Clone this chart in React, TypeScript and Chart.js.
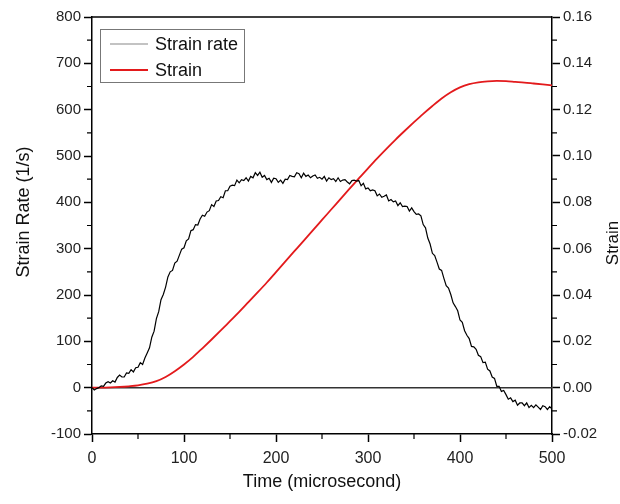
import React, { useEffect, useRef } from 'react';
import { Chart, registerables } from 'chart.js';

Chart.register(...registerables);

// Time step (microsecond) of the strain-rate record
const RATE_STEP = 2.5;
// Strain rate (1/s), sampled every 2.5 microseconds from 0 to 500
const STRAIN_RATE = [
  0, -5, -2, 0, 4, 3, 10, 13, 10, 15,
  12, 22, 27, 23, 23, 32, 31, 39, 34, 43,
  44, 54, 50, 64, 75, 86, 109, 122, 149, 164,
  190, 201, 217, 239, 250, 253, 269, 273, 286, 299,
  302, 317, 321, 339, 341, 352, 351, 364, 372, 370,
  379, 382, 395, 391, 403, 404, 412, 410, 425, 425,
  435, 437, 436, 448, 442, 449, 447, 453, 446, 456,
  453, 464, 458, 465, 454, 458, 449, 452, 443, 452,
  451, 443, 448, 441, 450, 449, 458, 456, 455, 464,
  462, 453, 463, 456, 459, 453, 457, 459, 452, 454,
  450, 456, 446, 453, 449, 451, 445, 453, 445, 448,
  449, 444, 440, 447, 448, 446, 447, 436, 441, 429,
  431, 425, 427, 425, 414, 418, 411, 413, 416, 403,
  406, 401, 403, 393, 399, 391, 392, 391, 381, 388,
  380, 374, 375, 371, 352, 345, 323, 310, 290, 285,
  271, 256, 253, 236, 220, 215, 201, 183, 175, 166,
  146, 141, 123, 113, 106, 89, 88, 83, 70, 67,
  54, 55, 40, 36, 23, 20, 3, 3, -8, -6,
  -15, -25, -22, -30, -27, -38, -33, -33, -39, -33,
  -43, -38, -43, -37, -42, -47, -39, -41, -47, -41,
  -46,
];

// Time step (microsecond) of the strain record
const STRAIN_STEP = 10;
// Strain, sampled every 10 microseconds from 0 to 500
const STRAIN = [
  0, 0.0, 0.0001, 0.0003, 0.0006, 0.001, 0.0017, 0.0028, 0.0046, 0.0071,
  0.01, 0.0133, 0.017, 0.0208, 0.0247, 0.0287, 0.0327, 0.0369, 0.0411, 0.0454,
  0.0499, 0.0544, 0.0589, 0.0634, 0.0679, 0.0724, 0.0769, 0.0814, 0.0859, 0.0903,
  0.0947, 0.099, 0.1031, 0.1071, 0.1109, 0.1146, 0.1182, 0.1216, 0.1248, 0.1275,
  0.1296, 0.131, 0.1318, 0.1322, 0.1324, 0.1323, 0.132, 0.1317, 0.1313, 0.1309,
  0.1305,
];

const X_TICKS = [0, 100, 200, 300, 400, 500];
const Y_LEFT_TICKS = [-100, 0, 100, 200, 300, 400, 500, 600, 700, 800];
const Y_RIGHT_TICKS = [-0.02, 0, 0.02, 0.04, 0.06, 0.08, 0.1, 0.12, 0.14, 0.16];

const SERIES_NAMES = ['Strain rate', 'Strain'];
const X_TITLE = 'Time (microsecond)';
const Y_LEFT_TITLE = 'Strain Rate (1/s)';
const Y_RIGHT_TITLE = 'Strain';

const FONT = '"Liberation Sans", Arial, sans-serif';

const decorPlugin = {
  id: 'decor',
  beforeDatasetsDraw(chart: any) {
    const { ctx, chartArea } = chart;
    const y0 = chart.scales.y.getPixelForValue(0);
    ctx.save();
    ctx.strokeStyle = '#333';
    ctx.lineWidth = 1.5;
    ctx.beginPath();
    ctx.moveTo(chartArea.left, y0);
    ctx.lineTo(chartArea.right, y0);
    ctx.stroke();
    ctx.restore();
  },
  afterDraw(chart: any) {
    const { ctx, chartArea } = chart;
    const xs = chart.scales.x;
    const yl = chart.scales.y;
    const yr = chart.scales.y1;
    ctx.save();
    // top frame line
    ctx.strokeStyle = '#000';
    ctx.lineWidth = 1.5;
    ctx.beginPath();
    ctx.moveTo(chartArea.left, chartArea.top);
    ctx.lineTo(chartArea.right, chartArea.top);
    ctx.stroke();

    // minor ticks
    ctx.lineWidth = 1.2;
    ctx.beginPath();
    for (let i = 0; i < X_TICKS.length - 1; i++) {
      const v = (X_TICKS[i] + X_TICKS[i + 1]) / 2;
      const px = xs.getPixelForValue(v);
      ctx.moveTo(px, chartArea.bottom);
      ctx.lineTo(px, chartArea.bottom + 5);
    }
    for (let i = 0; i < Y_LEFT_TICKS.length - 1; i++) {
      const v = (Y_LEFT_TICKS[i] + Y_LEFT_TICKS[i + 1]) / 2;
      const py = yl.getPixelForValue(v);
      ctx.moveTo(chartArea.left - 5, py);
      ctx.lineTo(chartArea.left, py);
    }
    for (let i = 0; i < Y_RIGHT_TICKS.length - 1; i++) {
      const v = (Y_RIGHT_TICKS[i] + Y_RIGHT_TICKS[i + 1]) / 2;
      const py = yr.getPixelForValue(v);
      ctx.moveTo(chartArea.right, py);
      ctx.lineTo(chartArea.right + 5, py);
    }
    ctx.stroke();

    // axis titles
    ctx.fillStyle = '#111';
    ctx.font = `18px ${FONT}`;
    ctx.textAlign = 'center';
    ctx.textBaseline = 'alphabetic';
    ctx.fillText(X_TITLE, (chartArea.left + chartArea.right) / 2, 487);

    ctx.save();
    ctx.translate(29, 212);
    ctx.rotate(-Math.PI / 2);
    ctx.fillText(Y_LEFT_TITLE, 0, 0);
    ctx.restore();

    ctx.save();
    ctx.translate(618, 243);
    ctx.rotate(-Math.PI / 2);
    ctx.font = `17px ${FONT}`;
    ctx.fillText(Y_RIGHT_TITLE, 0, 0);
    ctx.restore();

    // legend
    const bx = 100, by = 29, bw = 144, bh = 53;
    ctx.fillStyle = '#fff';
    ctx.fillRect(bx, by, bw, bh);
    ctx.strokeStyle = '#777';
    ctx.lineWidth = 1;
    ctx.strokeRect(bx + 0.5, by + 0.5, bw, bh);
    const rows = [44, 70];
    const colors = ['#888', '#e31a1c'];
    const widths = [1.2, 1.8];
    rows.forEach((ry, i) => {
      ctx.strokeStyle = colors[i];
      ctx.lineWidth = widths[i];
      ctx.beginPath();
      ctx.moveTo(110, ry);
      ctx.lineTo(148, ry);
      ctx.stroke();
      ctx.fillStyle = '#111';
      ctx.font = `18px ${FONT}`;
      ctx.textAlign = 'left';
      ctx.textBaseline = 'middle';
      ctx.fillText(SERIES_NAMES[i], 155, ry + 1);
    });
    ctx.restore();
  },
};

export default function App() {
  const canvasRef = useRef<HTMLCanvasElement | null>(null);

  useEffect(() => {
    const canvas = canvasRef.current;
    if (!canvas) return;
    const rateData = STRAIN_RATE.map((v, i) => ({ x: i * RATE_STEP, y: v }));
    const strainData = STRAIN.map((v, i) => ({ x: i * STRAIN_STEP, y: v }));

    const tickFont = { family: FONT, size: 15 };
    const chart = new Chart(canvas, {
      type: 'line',
      data: {
        datasets: [
          {
            label: SERIES_NAMES[0],
            data: rateData,
            borderColor: '#000',
            borderWidth: 1.2,
            pointRadius: 0,
            tension: 0,
            yAxisID: 'y',
          },
          {
            label: SERIES_NAMES[1],
            data: strainData,
            borderColor: '#e31a1c',
            borderWidth: 1.8,
            pointRadius: 0,
            cubicInterpolationMode: 'monotone',
            yAxisID: 'y1',
          },
        ],
      },
      options: {
        animation: false,
        responsive: false,
        events: [],
        layout: { padding: { top: 17, left: 0, right: 0, bottom: 0 } },
        plugins: {
          legend: { display: false },
          tooltip: { enabled: false },
        },
        scales: {
          x: {
            type: 'linear',
            min: 0,
            max: 500,
            afterFit: (s: any) => { s.height = 70; },
            afterBuildTicks: (s: any) => { s.ticks = X_TICKS.map((v) => ({ value: v })); },
            border: { display: true, color: '#000', width: 1.5 },
            grid: { drawOnChartArea: false, drawTicks: true, tickLength: 8, tickColor: '#000', tickWidth: 1.5 },
            ticks: { font: { family: FONT, size: 16 }, color: '#222', padding: 7, maxRotation: 0 },
          },
          y: {
            type: 'linear',
            position: 'left',
            min: -100,
            max: 800,
            afterFit: (s: any) => { s.width = 92; },
            afterBuildTicks: (s: any) => { s.ticks = Y_LEFT_TICKS.map((v) => ({ value: v })); },
            border: { display: true, color: '#000', width: 1.5 },
            grid: { drawOnChartArea: false, drawTicks: true, tickLength: 8, tickColor: '#000', tickWidth: 1.5 },
            ticks: { font: tickFont, color: '#222', padding: 3 },
          },
          y1: {
            type: 'linear',
            position: 'right',
            min: -0.02,
            max: 0.16,
            afterFit: (s: any) => { s.width = 68; },
            afterBuildTicks: (s: any) => { s.ticks = Y_RIGHT_TICKS.map((v) => ({ value: v })); },
            border: { display: true, color: '#000', width: 1.5 },
            grid: { drawOnChartArea: false, drawTicks: true, tickLength: 8, tickColor: '#000', tickWidth: 1.5 },
            ticks: {
              font: tickFont,
              color: '#222',
              padding: 3,
              callback: (v: any) => Number(v).toFixed(2),
            },
          },
        },
      },
      plugins: [decorPlugin],
    } as any);

    return () => chart.destroy();
  }, []);

  return (
    <div style={{ position: 'absolute', left: 0, top: 0, width: 620, height: 504, background: '#fff' }}>
      <canvas ref={canvasRef} width={620} height={504} style={{ display: 'block' }} />
    </div>
  );
}
